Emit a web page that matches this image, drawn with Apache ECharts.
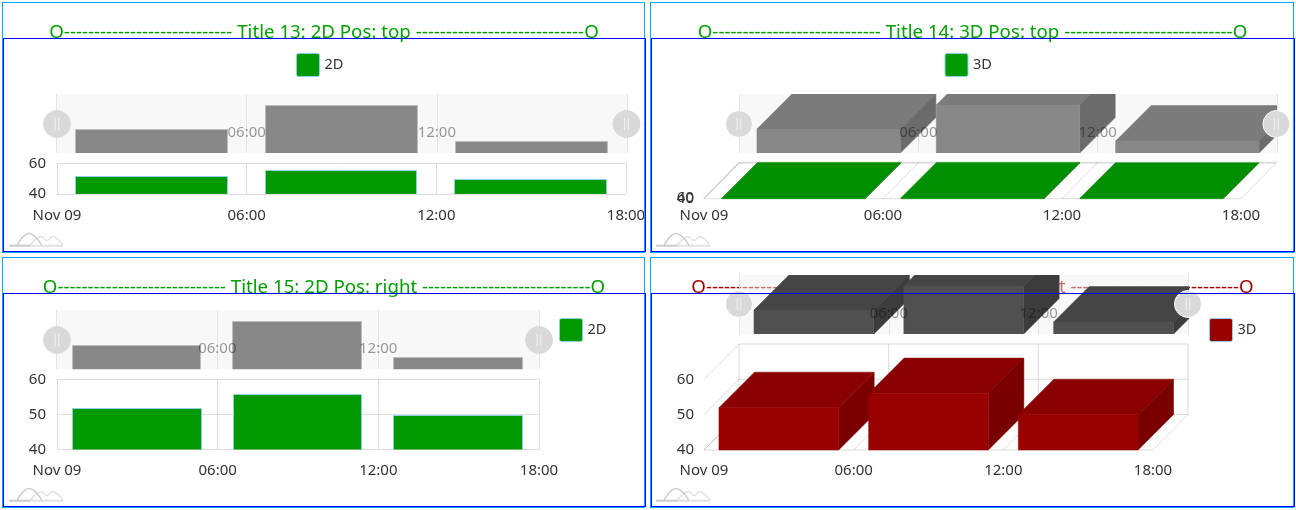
<!DOCTYPE html>
<html><head><meta charset="utf-8">
<style>
html,body{margin:0;padding:0;background:#fff;width:1296px;height:510px;overflow:hidden}
.c{position:absolute}
.b{position:absolute;box-sizing:border-box;pointer-events:none;z-index:5}
</style>
<script src="https://cdn.jsdelivr.net/npm/echarts@6/dist/echarts.min.js"></script>
</head><body>
<script>
const tickHours = [0, 6, 12, 18];
const tickLabels = ['Nov 09', '06:00', '12:00', '18:00'];
const barStart = [0.6, 6.6, 12.6];
const barEnd = [5.4, 11.4, 17.4];
const barValues = [52, 56, 50];
const titles = ['Title 13: 2D Pos: top', 'Title 14: 3D Pos: top', 'Title 15: 2D Pos: right', 'Title 16: 3D Pos: right'];
const seriesNames = ['2D', '3D', '2D', '3D'];

const FONT = '"Noto Sans","Open Sans",sans-serif';
const DASHES = '----------------------------';
const SWATCH = 'path://M2 0H21A2 2 0 0 1 23 2V21A2 2 0 0 1 21 23H2A2 2 0 0 1 0 21V2A2 2 0 0 1 2 0Z';
const barData = barStart.map((s, i) => [s, barEnd[i], barValues[i]]);
const label = v => tickLabels[tickHours.indexOf(v)] ?? '';

const panels = [
  {ox:3, oy:3, w:642, h:249, title:'#00a000', d3:false,
   main:[57,163.5,626,194], yInt:20, nav:[56.5,94,627,153], hx:[57,626.5], hy:124,
   leg:[296,53], legc:'#009900', labelM:14, yM:11, yPad:5},
  {ox:651, oy:3, w:643, h:249, title:'#00a000', d3:true,
   main:[704,197.7,1241,198.7], yInt:20, nav:[739,94,1277,153], hx:[739,1276.5], hy:124,
   leg:[944.5,53], legc:'#009900', labelM:10, yM:10, yPad:5, overlapTop:true,
   faces:['#009900','#008f00','#007a00'], navFaces:['#888888','#7b7b7b','#6b6b6b']},
  {ox:3, oy:258, w:642, h:249, title:'#00a000', d3:false,
   main:[57,379.5,539,449.5], yInt:10, nav:[56.5,310,539,369.3], hx:[57,539], hy:340,
   leg:[559,318], legc:'#009900', labelM:14, yM:11, yPad:5},
  {ox:651, oy:258, w:643, h:249, title:'#a00000', d3:true,
   main:[704,379.5,1153,450], yInt:10, nav:[739,275,1188.5,334], hx:[739,1188], hy:304,
   leg:[1209,318], legc:'#990000', labelM:13, yM:10, yPad:5,
   faces:['#990000','#8b0000','#7a0000'], navFaces:['#505050','#454545','#3c3c3c']}
];

function render2D(fill, stroke, yMin) {
  const snapX = v => Math.round(v) - 0.5, snapY = v => Math.round(v) + 0.5;
  return (params, api) => {
    const a = api.coord([api.value(0), yMin]);
    const b = api.coord([api.value(1), api.value(2)]);
    const x0 = snapX(a[0]), x1 = snapX(b[0]), y0 = snapY(a[1]), y1 = snapY(b[1]);
    return {type:'rect', shape:{x:x0, y:y1, width:x1-x0, height:y0-y1},
      style:{fill, stroke, lineWidth:1}};
  };
}
function render3D(faces, yMin) {
  const dx = 35.5, dy = 35.5;
  return (params, api) => {
    const a = api.coord([api.value(0), yMin]);
    const b = api.coord([api.value(1), api.value(2)]);
    const [x0, y0, x1, y1] = [a[0], a[1], b[0], b[1]];
    const poly = (points, fill) => ({type:'polygon', shape:{points}, style:{fill, stroke:fill, lineWidth:0.5}});
    return {type:'group', children:[
      poly([[x0,y1],[x1,y1],[x1+dx,y1-dy],[x0+dx,y1-dy]], faces[1]),
      poly([[x1,y0],[x1,y1],[x1+dx,y1-dy],[x1+dx,y0-dy]], faces[2]),
      poly([[x0,y0],[x1,y0],[x1,y1],[x0,y1]], faces[0])
    ]};
  };
}
function renderFrame(yTicks) {
  const dx = 35, dy = 35.5, c = 'rgba(0,0,0,0.14)';
  return (params, api) => {
    const xa = tickHours[0], xb = tickHours[tickHours.length-1], ya = yTicks[0], yb = yTicks[yTicks.length-1];
    const lines = [];
    const seg = (p, q, sp, sq) => {
      const P = api.coord(p), Q = api.coord(q);
      lines.push({type:'line', shape:{x1:P[0]+(sp?dx:0), y1:P[1]-(sp?dy:0), x2:Q[0]+(sq?dx:0), y2:Q[1]-(sq?dy:0)},
        style:{stroke:c, lineWidth:1}});
    };
    yTicks.forEach(y => { seg([xa,y],[xb,y],1,1); seg([xa,y],[xa,y],0,1); });
    tickHours.forEach(x => { seg([x,ya],[x,yb],1,1); seg([x,ya],[x,ya],0,1); });
    seg([xa,ya],[xb,ya],0,0);
    return {type:'group', children:lines};
  };
}

panels.forEach((p, idx) => {
  const el = document.createElement('div');
  el.className = 'c';
  el.style.cssText = `left:${p.ox}px;top:${p.oy}px;width:${p.w}px;height:${p.h}px`;
  document.body.appendChild(el);

  const outer = document.createElement('div'); outer.className = 'b';
  outer.style.cssText = `left:${p.ox-1}px;top:${p.oy-1}px;width:${p.w+1}px;height:${p.h+2}px;border:1px solid #00a8ff`;
  document.body.appendChild(outer);
  const inner = document.createElement('div'); inner.className = 'b';
  inner.style.cssText = `left:${p.ox}px;top:${p.oy+35}px;width:${p.w+1}px;height:${p.h-35}px;border:1px solid #0000ff`;
  document.body.appendChild(inner);

  const X = v => v - p.ox, Y = v => v - p.oy;
  const rect = r => ({left:X(r[0]), top:Y(r[1]), width:r[2]-r[0], height:r[3]-r[1]});
  const yTicks = p.yInt === 20 ? [40, 60] : [40, 50, 60];
  const navMax = 48 + (p.nav[3]-p.nav[1]) / 6;
  const chart = echarts.init(el, null, {renderer:'canvas'});

  const series = [];
  if (p.d3) {
    series.push({type:'custom', silent:true, xAxisIndex:0, yAxisIndex:0, clip:false, z:1,
      renderItem:renderFrame(yTicks), data:[[0]], encode:{x:0,y:0}});
    series.push({name:seriesNames[idx], type:'custom', silent:true, xAxisIndex:0, yAxisIndex:0, clip:false, z:2,
      itemStyle:{color:p.legc}, renderItem:render3D(p.faces, 40), data:barData, encode:{x:[0,1],y:2}});
    series.push({type:'custom', silent:true, xAxisIndex:1, yAxisIndex:1, clip:true, z:3,
      renderItem:render3D(p.navFaces, 48), data:barData, encode:{x:[0,1],y:2}});
  } else {
    series.push({name:seriesNames[idx], type:'custom', silent:true, xAxisIndex:0, yAxisIndex:0, clip:true, z:2,
      itemStyle:{color:p.legc}, renderItem:render2D(p.legc, '#8fd0e8', 40), data:barData, encode:{x:[0,1],y:2}});
    series.push({type:'custom', silent:true, xAxisIndex:1, yAxisIndex:1, clip:true, z:3,
      renderItem:render2D('#888888', '#bdbdbd', 48), data:barData, encode:{x:[0,1],y:2}});
  }

  const handle = x => ({type:'group', x:X(x), y:Y(p.hy), z:100, children:[
    {type:'circle', shape:{cx:0, cy:0, r:13.5}, z:100, style:{fill:'#d9d9d9', stroke:p.d3?'#ffffff':'#d9d9d9', lineWidth:1}},
    {type:'line', shape:{x1:-1.8, y1:-6, x2:-1.8, y2:6}, z:101, style:{stroke:'#f2f2f2', lineWidth:1}},
    {type:'line', shape:{x1:1.8, y1:-6, x2:1.8, y2:6}, z:101, style:{stroke:'#f2f2f2', lineWidth:1}}
  ]});
  const curve = (points, stroke, z) => ({type:'polyline', z, shape:{points, smooth:0.5}, style:{fill:null, stroke, lineWidth:1.4}});
  const logo = {type:'group', x:X(p.ox < 100 ? 8 : 655), y:Y(p.oy === 3 ? 232.5 : 487.5), z:50, children:[
    curve([[9,13],[21,1],[34,13]], '#cccccc', 50),
    curve([[22,13],[33,4],[39,8],[45,4],[55,13]], '#e2e2e2', 49),
    {type:'line', z:49, shape:{x1:1, y1:13.2, x2:22, y2:13.2}, style:{stroke:'#cccccc', lineWidth:2}},
    {type:'line', z:49, shape:{x1:22, y1:13.2, x2:55, y2:13.2}, style:{stroke:'#e2e2e2', lineWidth:2}}
  ]};

  const yLabel = {color:'#333', fontSize:15, fontFamily:FONT, margin:p.yM, hideOverlap:false, showMinLabel:true, showMaxLabel:true, padding:[p.yPad,0,0,0]};
  const yAxes = [
    {type:'value', gridIndex:0, min:40, max:60, interval:p.yInt, axisLine:{show:false}, axisTick:{show:false},
     splitLine:{show:!p.d3, lineStyle:{color:'#dddddd'}}, axisLabel:yLabel},
    {type:'value', gridIndex:1, show:false, min:48, max:navMax, splitLine:{show:false}}
  ];
  if (p.overlapTop) {
    yAxes.push({type:'value', gridIndex:0, position:'left', min:40, max:60, interval:p.yInt, axisLine:{show:false}, axisTick:{show:false},
      splitLine:{show:false}, axisLabel:Object.assign({}, yLabel, {formatter:v => v === 60 ? '60' : ''})});
  }

  chart.setOption({
    animation:false, backgroundColor:'transparent',
    textStyle:{fontFamily:FONT},
    title:{text:`O${DASHES} ${titles[idx]} ${DASHES}O`, left:'center', top:15, z:-1, padding:[5,11,5,5],
      textStyle:{color:p.title, fontSize:18.7, fontWeight:'normal', fontFamily:FONT}},
    legend:{left:X(p.leg[0]), top:Y(p.leg[1]), padding:0, itemWidth:23, itemHeight:23, icon:SWATCH, selectedMode:false,
      data:[{name:seriesNames[idx], itemStyle:{color:p.legc, borderColor:'#8fd0e8', borderWidth:1}}],
      textStyle:{color:'#333', fontSize:14.5, fontFamily:FONT}},
    grid:[
      Object.assign({show:false, containLabel:false, outerBoundsMode:'none'}, rect(p.main)),
      Object.assign({show:true, backgroundColor:'rgba(240,240,240,0.45)', borderWidth:0, containLabel:false, outerBoundsMode:'none'}, rect(p.nav))
    ],
    xAxis:[
      {type:'value', gridIndex:0, min:0, max:18, interval:6, axisLine:{show:false}, axisTick:{show:false},
       splitLine:{show:!p.d3, lineStyle:{color:'#dddddd'}},
       axisLabel:{color:'#333', fontSize:15, fontFamily:FONT, margin:p.labelM, formatter:label, hideOverlap:false,
         showMinLabel:true, showMaxLabel:true, alignMinLabel:'center', alignMaxLabel:'center'}},
      {type:'value', gridIndex:1, min:0, max:18, interval:6, axisLine:{show:false}, axisTick:{show:false}, axisLabel:{show:false},
       splitLine:{show:true, lineStyle:{color:'#e4e4e4'}}},
      {type:'value', gridIndex:1, position:'top', min:0, max:18, interval:6, z:10, axisLine:{show:false}, axisTick:{show:false}, splitLine:{show:false},
       axisLabel:{inside:true, color:'rgba(0,0,0,0.4)', fontSize:15, fontFamily:FONT, margin:31,
         formatter:v => (v === 6 || v === 12) ? label(v) : '', hideOverlap:false}}
    ],
    yAxis:yAxes,
    series,
    graphic:{elements:[handle(p.hx[0]), handle(p.hx[1]), logo]}
  });
});
</script>
</body></html>
